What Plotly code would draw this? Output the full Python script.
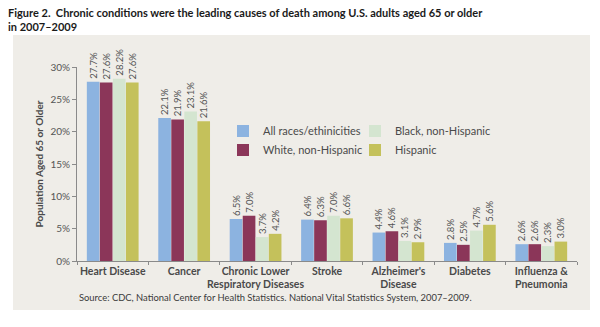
import plotly.graph_objects as go

# Causes of death (x categories) and share of deaths by group (%)
causes = [
    "Heart Disease",
    "Cancer",
    "Chronic Lower<br>Respiratory Diseases",
    "Stroke",
    "Alzheimer's<br>Disease",
    "Diabetes",
    "Influenza &<br>Pneumonia",
]
all_races = [27.7, 22.1, 6.5, 6.4, 4.4, 2.8, 2.6]
white_nh = [27.6, 21.9, 7.0, 6.3, 4.6, 2.5, 2.6]
black_nh = [28.2, 23.1, 3.7, 7.0, 3.1, 4.7, 2.3]
hispanic = [27.6, 21.6, 4.2, 6.6, 2.9, 5.6, 3.0]

y_ticks = [0, 5, 10, 15, 20, 25, 30]
y_tick_labels = ["0%", "5%", "10%", "15%", "20%", "25%", "30%"]

series = [
    ("All races/ethinicities", all_races, "#8cb3e0", "legend"),
    ("White, non-Hispanic", white_nh, "#8b3659", "legend"),
    ("Black, non-Hispanic", black_nh, "#d4e5d0", "legend2"),
    ("Hispanic", hispanic, "#c4c15b", "legend2"),
]

BASE_FONT = "Lato, 'Open Sans', sans-serif"
TEXT_GRAY = "#555555"

fig = go.Figure()
for name, vals, color, leg in series:
    fig.add_trace(go.Bar(
        x=causes,
        y=vals,
        name=name,
        marker=dict(color=color, line=dict(width=0)),
        text=[f"{v:.1f}%" for v in vals],
        textposition="outside",
        textangle=-90,
        constraintext="none",
        cliponaxis=False,
        textfont=dict(family=BASE_FONT, size=9.5, color=TEXT_GRAY),
        legend=leg,
    ))

# light panel behind the chart body
fig.add_shape(
    type="rect", xref="paper", yref="paper",
    x0=-0.128, x1=1.026, y0=-0.2526, y1=1.165,
    fillcolor="#efede8", line=dict(width=0), layer="below",
)

# figure heading
fig.add_annotation(
    text="<b>Figure 2.  Chronic conditions were the leading causes of death among U.S. adults aged 65 or older<br>in 2007\u20132009</b>",
    xref="paper", yref="paper", x=-0.142, y=1.325, xanchor="left", yanchor="top",
    align="left", showarrow=False,
    font=dict(family=BASE_FONT, size=11, color="#1a1a1a"),
)

fig.add_annotation(
    text="Source: CDC, National Center for Health Statistics. National Vital Statistics System, 2007\u20132009.",
    xref="paper", yref="paper", x=0.0, y=-0.19, xanchor="left", yanchor="middle",
    showarrow=False, font=dict(family=BASE_FONT, size=9.4, color="#3a3a3a"),
)

legend_common = dict(
    orientation="v", bgcolor="rgba(0,0,0,0)", borderwidth=0,
    font=dict(family=BASE_FONT, size=11, color="#4a4a4a"),
    xanchor="left", yanchor="top", tracegroupgap=0, itemclick=False,
)

fig.update_layout(
    width=600, height=327,
    margin=dict(l=77, r=23, t=67, b=66),
    paper_bgcolor="white",
    plot_bgcolor="rgba(0,0,0,0)",
    barmode="group",
    bargap=0.27,
    bargroupgap=0.03,
    legend=dict(x=0.292, y=0.745, **legend_common),
    legend2=dict(x=0.556, y=0.745, **legend_common),
    xaxis=dict(
        showgrid=False, showline=True, linecolor="#8a8a8a", linewidth=1,
        ticks="outside", tickson="boundaries", ticklen=3, tickcolor="#8a8a8a",
        tickangle=0,
        tickfont=dict(family=BASE_FONT, size=10.5, color="#4a4a4a", weight="bold"),
        zeroline=False,
    ),
    yaxis=dict(
        range=[0, 30], tickvals=y_ticks, ticktext=y_tick_labels,
        showgrid=False, showline=True, linecolor="#8a8a8a", linewidth=1,
        ticks="outside", ticklen=4, tickcolor="#8a8a8a",
        tickfont=dict(family=BASE_FONT, size=10, color=TEXT_GRAY),
        zeroline=False,
        title=dict(text="Population Aged 65 or Older", standoff=4,
                   font=dict(family=BASE_FONT, size=10, color="#4a4a4a", weight="bold")),
    ),
    showlegend=True,
)

fig.write_html("out.html")
